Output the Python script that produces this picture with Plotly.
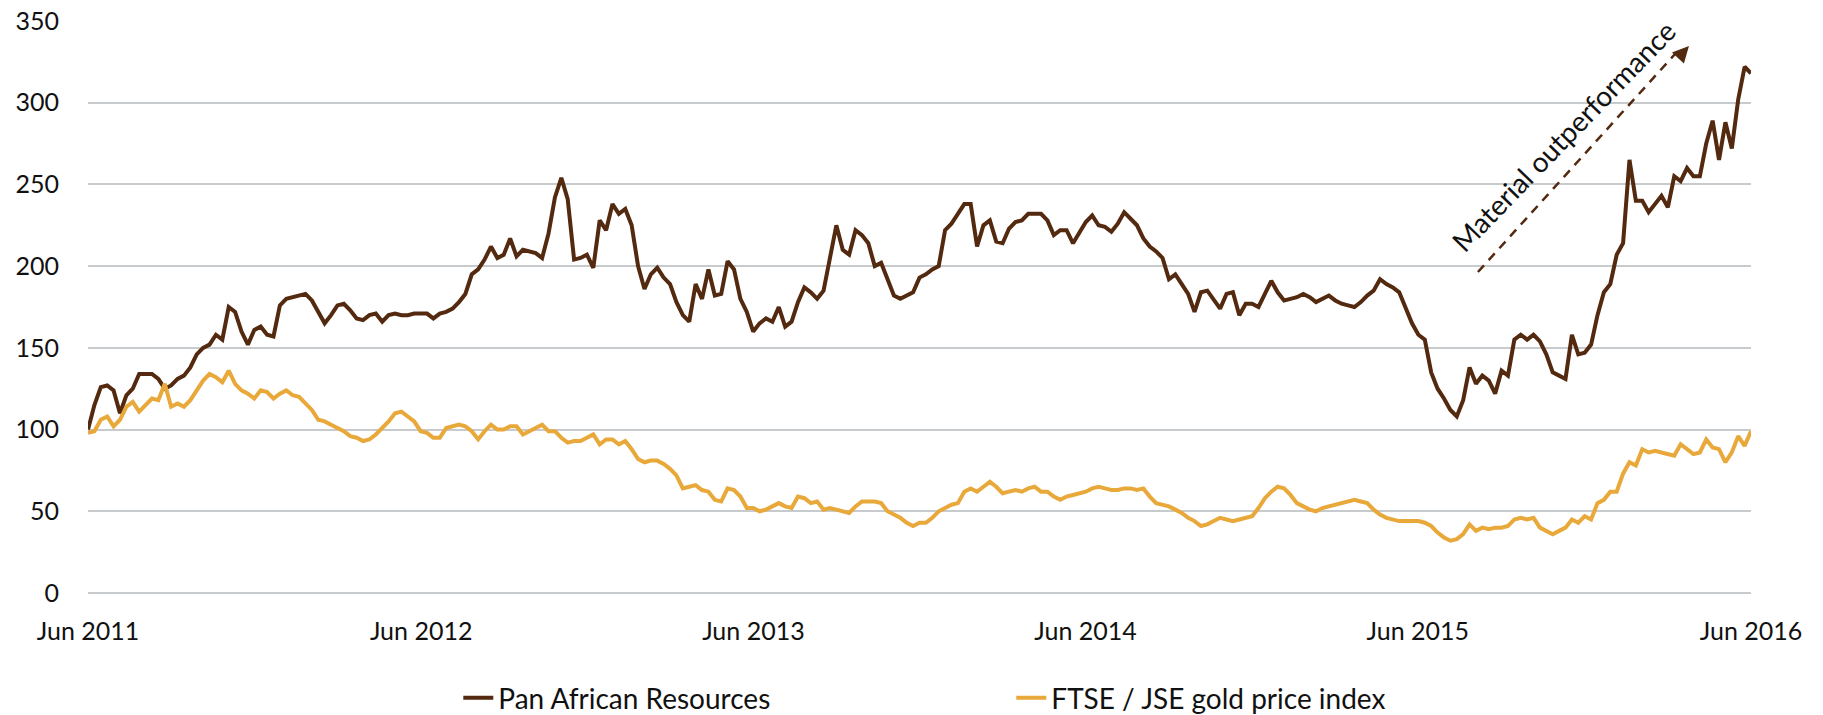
import pandas as pd
import plotly.graph_objects as go

# Weekly observations, Jun 2011 - Jun 2016 (rebased to 100)
start_date = "2011-06-01"
end_date = "2016-06-01"
n_points = 261

pan_african = [
    100, 115, 126, 127, 124, 110, 121, 125, 134, 134,
    134, 131, 125, 127, 131, 133, 138, 146, 150, 152,
    158, 155, 175, 172, 160, 152, 161, 163, 158, 157,
    176, 180, 181, 182, 183, 179, 172, 165, 170, 176,
    177, 173, 168, 167, 170, 171, 166, 170, 171, 170,
    170, 171, 171, 171, 168, 171, 172, 174, 178, 183,
    195, 198, 204, 212, 205, 207, 217, 206, 210, 209,
    208, 205, 220, 242, 254, 241, 204, 205, 207, 199,
    228, 222, 238, 232, 235, 225, 200, 186, 195, 199,
    193, 189, 178, 170, 166, 189, 180, 198, 182, 183,
    203, 198, 180, 172, 160, 165, 168, 166, 175, 163,
    166, 178, 187, 184, 180, 185, 205, 225, 210, 207,
    222, 219, 214, 200, 202, 192, 182, 180, 182, 184,
    193, 195, 198, 200, 222, 226, 232, 238, 238, 212,
    225, 228, 215, 214, 223, 227, 228, 232, 232, 232,
    228, 219, 222, 222, 214, 220, 227, 231, 225, 224,
    221, 226, 233, 229, 225, 217, 212, 209, 205, 192,
    195, 189, 183, 172, 184, 185, 180, 174, 183, 184,
    170, 177, 177, 175, 183, 191, 184, 179, 180, 181,
    183, 181, 178, 180, 182, 179, 177, 176, 175, 178,
    182, 185, 192, 189, 187, 184, 174, 165, 158, 155,
    135, 125, 119, 112, 108, 118, 138, 128, 133, 130,
    122, 136, 133, 155, 158, 155, 158, 154, 146, 135,
    133, 131, 158, 146, 147, 152, 170, 184, 189, 207,
    214, 265, 240, 240, 233, 238, 243, 236, 255, 252,
    260, 255, 255, 275, 289, 265, 288, 272, 302, 322,
    318,
]

gold_index = [
    98, 99, 106, 108, 102, 106, 114, 117, 111, 115,
    119, 118, 128, 114, 116, 114, 118, 124, 130, 134,
    132, 129, 136, 128, 124, 122, 119, 124, 123, 119,
    122, 124, 121, 120, 116, 112, 106, 105, 103, 101,
    99, 96, 95, 93, 94, 97, 101, 105, 110, 111,
    108, 105, 99, 98, 95, 95, 101, 102, 103, 102,
    99, 94, 99, 103, 100, 100, 102, 102, 97, 99,
    101, 103, 99, 99, 95, 92, 93, 93, 95, 97,
    91, 94, 94, 91, 93, 88, 82, 80, 81, 81,
    79, 76, 72, 64, 65, 66, 63, 62, 57, 56,
    64, 63, 59, 52, 52, 50, 51, 53, 55, 53,
    52, 59, 58, 55, 56, 51, 52, 51, 50, 49,
    53, 56, 56, 56, 55, 50, 48, 46, 43, 41,
    43, 43, 46, 50, 52, 54, 55, 62, 64, 62,
    65, 68, 65, 61, 62, 63, 62, 64, 65, 62,
    62, 59, 57, 59, 60, 61, 62, 64, 65, 64,
    63, 63, 64, 64, 63, 64, 59, 55, 54, 53,
    51, 49, 46, 44, 41, 42, 44, 46, 45, 44,
    45, 46, 47, 52, 58, 62, 65, 64, 60, 55,
    53, 51, 50, 52, 53, 54, 55, 56, 57, 56,
    55, 51, 48, 46, 45, 44, 44, 44, 44, 43,
    41, 37, 34, 32, 33, 36, 42, 38, 40, 39,
    40, 40, 41, 45, 46, 45, 46, 40, 38, 36,
    38, 40, 45, 43, 47, 45, 55, 57, 62, 62,
    73, 80, 78, 88, 86, 87, 86, 85, 84, 91,
    88, 85, 86, 94, 89, 88, 80, 86, 96, 90,
    99,
]

series_names = ["Pan African Resources", "FTSE / JSE gold price index"]
tick_dates = ["2011-06-01", "2012-06-01", "2013-06-01", "2014-06-01", "2015-06-01", "2016-06-01"]
tick_labels = ["Jun 2011", "Jun 2012", "Jun 2013", "Jun 2014", "Jun 2015", "Jun 2016"]
y_ticks = [0, 50, 100, 150, 200, 250, 300, 350]
annotation_text = "Material outperformance"

dates = pd.date_range(start_date, end_date, periods=n_points)

BROWN = "#53290F"
GOLD = "#E8A83A"
GRID = "#C7CBCE"
FONT = "Lato, 'Open Sans', sans-serif"

fig = go.Figure()
fig.add_trace(go.Scatter(x=dates, y=pan_african, mode="lines", name=series_names[0],
                         line=dict(color=BROWN, width=4)))
fig.add_trace(go.Scatter(x=dates, y=gold_index, mode="lines", name=series_names[1],
                         line=dict(color=GOLD, width=4)))

fig.update_layout(
    width=1823, height=715,
    margin=dict(l=88, r=72, t=21, b=122),
    paper_bgcolor="white", plot_bgcolor="white",
    font=dict(family=FONT, size=25, color="#111111"),
    showlegend=True,
    legend=dict(orientation="h", xref="container", yref="container",
                x=0.2514, xanchor="left", y=0.0238, yanchor="middle",
                entrywidth=508, entrywidthmode="pixels",
                font=dict(family=FONT, size=28, color="#111111"),
                bgcolor="rgba(0,0,0,0)"),
)

fig.update_xaxes(
    range=[start_date, end_date], tickmode="array",
    tickvals=tick_dates, ticktext=tick_labels,
    showgrid=False, showline=False, zeroline=False, ticks="",
    ticklabelstandoff=21, automargin=False,
    tickfont=dict(family=FONT, size=25, color="#111111"),
)
fig.update_yaxes(
    range=[0, 350], tickmode="array", tickvals=y_ticks,
    showgrid=True, gridcolor=GRID, gridwidth=2,
    zeroline=True, zerolinecolor=GRID, zerolinewidth=2,
    showline=False, ticks="", ticklabelstandoff=28, automargin=False,
    tickfont=dict(family=FONT, size=25, color="#111111"),
)

# dashed arrow shaft
fig.add_shape(type="line", xref="paper", yref="paper",
              x0=0.8358, y0=0.5612, x1=0.955, y1=0.9445,
              line=dict(color=BROWN, width=2.5, dash="9px,7px"))
# arrow head
fig.add_annotation(xref="paper", yref="paper", x=0.9627, y=0.9563,
                   ax=-12, ay=13, axref="pixel", ayref="pixel",
                   text="", showarrow=True, arrowhead=2, arrowsize=1.3,
                   arrowwidth=2.5, arrowcolor=BROWN)
# label
fig.add_annotation(xref="paper", yref="paper", x=0.887, y=0.799,
                   xanchor="center", yanchor="middle",
                   text=annotation_text, showarrow=False, textangle=-46,
                   font=dict(family=FONT, size=28, color="#111111"))

fig.write_html("out.html", config={"displayModeBar": False},
               post_script="document.body.style.margin='0';document.body.style.overflow='hidden';")
